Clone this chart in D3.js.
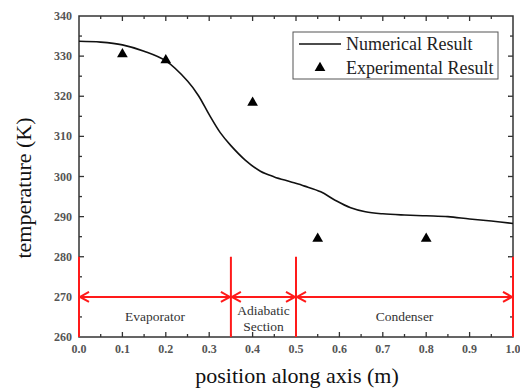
<!DOCTYPE html>
<html>
<head>
<meta charset="utf-8">
<script src="https://cdn.jsdelivr.net/npm/d3@7"></script>
<style>
  body { margin: 0; background: #fff; }
  svg { display: block; }
  text { font-family: "Liberation Serif", "DejaVu Serif", serif; }
</style>
</head>
<body>
<svg id="chart" width="520" height="389"></svg>
<script>
// numerical result
const numX = [0, 0.05, 0.1, 0.15, 0.2, 0.25, 0.275, 0.3, 0.325, 0.35, 0.383, 0.418, 0.45, 0.487, 0.52, 0.557, 0.59, 0.626, 0.66, 0.7, 0.75, 0.8, 0.85, 0.9, 0.95, 1.0];
const numT = [333.7, 333.5, 332.8, 331.2, 328.8, 323.8, 320.2, 315.4, 311.0, 307.7, 304.1, 301.3, 299.9, 298.7, 297.6, 296.2, 294.1, 292.2, 291.2, 290.7, 290.4, 290.2, 290.0, 289.4, 288.9, 288.3];

// experimental result
const expX = [0.1, 0.2, 0.4, 0.55, 0.8];
const expT = [330.5, 329.0, 318.4, 284.5, 284.5];

// sections
const sectionBounds = [0, 0.35, 0.5, 1.0];
const sectionLabels = [["Evaporator"], ["Adiabatic", "Section"], ["Condenser"]];

const xTicks = [0, 0.1, 0.2, 0.3, 0.4, 0.5, 0.6, 0.7, 0.8, 0.9, 1.0];
const yTicks = [260, 270, 280, 290, 300, 310, 320, 330, 340];

const svg = d3.select("#chart");
const margin = { top: 16, right: 7, bottom: 52, left: 79 };
const W = 520, H = 389;

const x = d3.scaleLinear().domain([0, 1]).range([margin.left, W - margin.right]);
const y = d3.scaleLinear().domain([260, 340]).range([H - margin.bottom, margin.top]);

const axisColor = "#333";
const tickColor = "#555";
const red = "#ff1a1a";

// minor ticks
const xMinor = d3.range(0.05, 1, 0.1);
const yMinor = d3.range(265, 340, 10);

function drawTicks(g, vals, scale, orient, len) {
  vals.forEach(v => {
    const p = scale(v);
    let a;
    if (orient === "bottom") a = [p, y(260), p, y(260) - len];
    if (orient === "top") a = [p, y(340), p, y(340) + len];
    if (orient === "left") a = [x(0), p, x(0) + len, p];
    if (orient === "right") a = [x(1), p, x(1) - len, p];
    g.append("line")
      .attr("x1", a[0]).attr("y1", a[1]).attr("x2", a[2]).attr("y2", a[3])
      .attr("stroke", axisColor).attr("stroke-width", 1.3);
  });
}

const axes = svg.append("g");
drawTicks(axes, xTicks.slice(1, -1), x, "bottom", 5);
drawTicks(axes, xMinor, x, "bottom", 3);
drawTicks(axes, xTicks.slice(1, -1), x, "top", 5);
drawTicks(axes, xMinor, x, "top", 3);
drawTicks(axes, yTicks.slice(1, -1), y, "left", 5);
drawTicks(axes, yMinor, y, "left", 3);
drawTicks(axes, yTicks.slice(1, -1), y, "right", 5);
drawTicks(axes, yMinor, y, "right", 3);

axes.append("rect")
  .attr("x", x(0)).attr("y", y(340))
  .attr("width", x(1) - x(0)).attr("height", y(260) - y(340))
  .attr("fill", "none").attr("stroke", axisColor).attr("stroke-width", 1.5);

// tick labels
svg.append("g").selectAll("text").data(xTicks).join("text")
  .attr("x", d => x(d)).attr("y", y(260) + 16)
  .attr("text-anchor", "middle")
  .attr("font-size", 12).attr("font-weight", "bold").attr("fill", tickColor)
  .text(d => d.toFixed(1));

svg.append("g").selectAll("text").data(yTicks).join("text")
  .attr("x", x(0) - 7).attr("y", d => y(d) + 4)
  .attr("text-anchor", "end")
  .attr("font-size", 12).attr("font-weight", "bold").attr("fill", tickColor)
  .text(d => d);

// axis titles
svg.append("text")
  .attr("x", 297).attr("y", 383)
  .attr("text-anchor", "middle").attr("font-size", 22).attr("fill", "#111")
  .text("position along axis (m)");

svg.append("text")
  .attr("transform", "translate(31,188) rotate(-90)")
  .attr("text-anchor", "middle").attr("font-size", 22).attr("fill", "#111")
  .text("temperature (K)");

// section markers
const sec = svg.append("g");
sectionBounds.forEach(v => {
  sec.append("line")
    .attr("x1", x(v)).attr("x2", x(v))
    .attr("y1", y(260)).attr("y2", y(280))
    .attr("stroke", red).attr("stroke-width", 2);
});

const ay = y(270);
function arrowHead(g, px, dir) {
  // dir = +1 points right, -1 points left
  g.append("path")
    .attr("d", `M${px - dir * 9},${ay - 5}L${px},${ay}L${px - dir * 9},${ay + 5}`)
    .attr("fill", "none").attr("stroke", red).attr("stroke-width", 2);
}
for (let i = 0; i < sectionBounds.length - 1; i++) {
  const a = x(sectionBounds[i]) + 1, b = x(sectionBounds[i + 1]) - 1;
  sec.append("line")
    .attr("x1", a).attr("x2", b).attr("y1", ay).attr("y2", ay)
    .attr("stroke", red).attr("stroke-width", 2);
  arrowHead(sec, a, -1);
  arrowHead(sec, b, 1);

  const cx = (x(sectionBounds[i]) + x(sectionBounds[i + 1])) / 2;
  const lines = sectionLabels[i];
  const y0 = lines.length === 1 ? 321 : 315;
  lines.forEach((t, j) => {
    sec.append("text")
      .attr("x", cx).attr("y", y0 + j * 15.5)
      .attr("text-anchor", "middle").attr("font-size", 13.5).attr("fill", "#333")
      .text(t);
  });
}

// numerical curve
const numData = numX.map((v, i) => [v, numT[i]]);
svg.append("path")
  .datum(numData)
  .attr("fill", "none").attr("stroke", "#111").attr("stroke-width", 1.6)
  .attr("d", d3.line().x(d => x(d[0])).y(d => y(d[1])).curve(d3.curveCatmullRom));

// experimental points
const tri = d3.symbol().type(d3.symbolTriangle).size(50);
svg.append("g").selectAll("path").data(expX.map((v, i) => [v, expT[i]])).join("path")
  .attr("transform", d => `translate(${x(d[0])},${y(d[1])})`)
  .attr("d", tri).attr("fill", "#000");

// legend
const lg = svg.append("g");
lg.append("rect")
  .attr("x", 293).attr("y", 32).attr("width", 205).attr("height", 47)
  .attr("fill", "#fff").attr("stroke", "#555").attr("stroke-width", 1);
lg.append("line")
  .attr("x1", 299).attr("x2", 341).attr("y1", 44).attr("y2", 44)
  .attr("stroke", "#111").attr("stroke-width", 1.6);
lg.append("path")
  .attr("transform", "translate(320,68)").attr("d", tri).attr("fill", "#000");
lg.append("text").attr("x", 346).attr("y", 50)
  .attr("font-size", 18).attr("fill", "#222").text("Numerical Result");
lg.append("text").attr("x", 346).attr("y", 74)
  .attr("font-size", 18).attr("fill", "#222").text("Experimental Result");
</script>
</body>
</html>
